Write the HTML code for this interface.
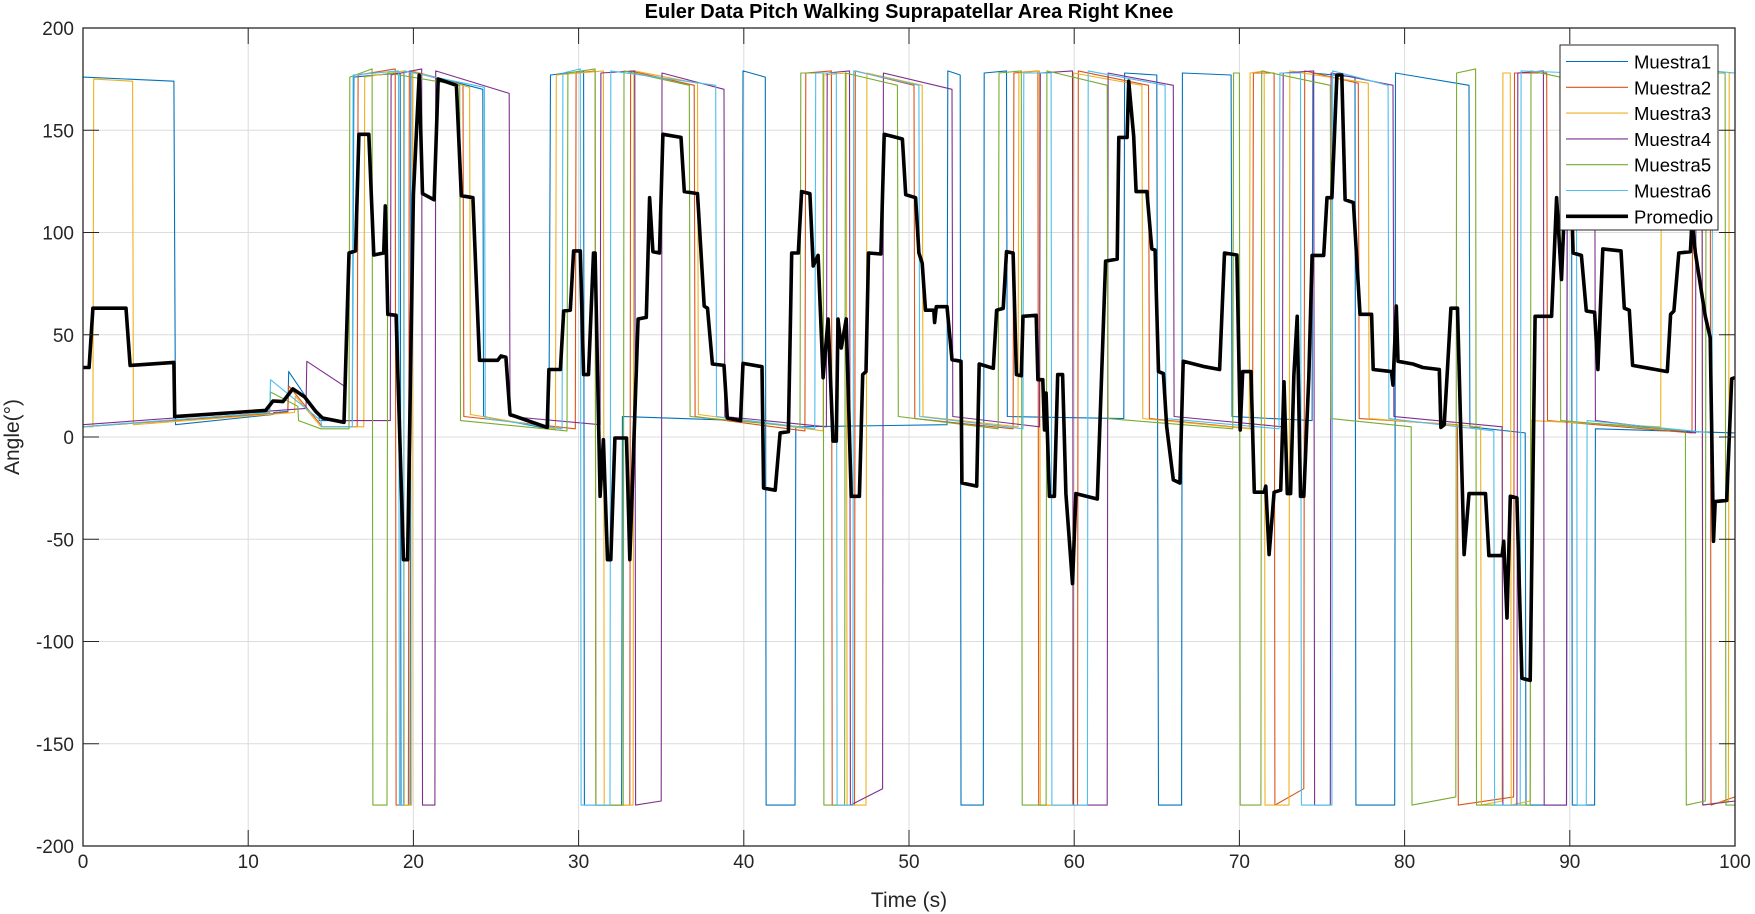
<!DOCTYPE html>
<html><head><meta charset="utf-8"><style>
html,body{margin:0;padding:0;background:#fff;}
svg{display:block;font-family:"Liberation Sans",sans-serif;}
</style></head><body>
<svg id="chart" width="1755" height="914" viewBox="0 0 1755 914" xmlns="http://www.w3.org/2000/svg">
<rect x="0" y="0" width="1755" height="914" fill="#fff"/>
<text x="909" y="18" text-anchor="middle" font-size="20" font-weight="bold" fill="#000">Euler Data Pitch Walking Suprapatellar Area Right Knee</text>
<text x="909" y="907" text-anchor="middle" font-size="21" fill="#262626">Time (s)</text>
<text x="0" y="0" transform="translate(19,437) rotate(-90)" text-anchor="middle" font-size="21" fill="#262626">Angle(°)</text>
<g id="grid"></g>
<g id="series"></g>
<g id="axes"></g>
<g id="legend"></g>
</svg>
<script>
const xTicks = [0,10,20,30,40,50,60,70,80,90,100];
const yTicks = [200,150,100,50,0,-50,-100,-150,-200];
const seriesNames = ["Muestra1","Muestra2","Muestra3","Muestra4","Muestra5","Muestra6"];
const m1 = [[0,5.5,176,174],[5.6,11.5,6,11],[11.55,12.4,12,12.5],[12.45,14.3,32,10],[14.3,16.3,8,8],[16.4,19.2,176,178],[19.25,19.8,-180,-180],[19.85,24.2,179,170],[24.25,28.2,10,4],[28.3,30.3,177,179],[30.35,32.6,-180,-180],[32.65,39.9,10,8],[39.95,41.3,179,176],[41.35,43.1,-180,-180],[43.15,52.3,5,6],[52.35,53.1,179,177],[53.15,54.5,-180,-180],[54.55,55.9,178,179],[55.95,63,10,9],[63.05,65,178,177],[65.1,66.5,-180,-180],[66.55,69.5,178,177],[69.55,74.4,10,8],[74.45,77,178,176],[77.05,79.4,-180,-180],[79.45,83.9,178,172],[83.95,87.3,5,2],[87.35,89.8,-180,-180],[89.85,90.1,178,178],[90.15,91.5,-180,-180],[91.55,100,4,2]];
const m2 = [[0,12.4,5,12],[12.45,14.5,25,5],[14.5,16.6,5,5],[16.65,18.9,177,180],[18.95,19.7,-180,-180],[19.75,23.0,179,172],[23.05,29.8,10,4],[29.85,31.0,178,179],[31.05,33.1,-180,-180],[33.15,37.0,179,172],[37.05,43.7,10,3],[43.75,45.3,178,179],[45.35,46.7,-180,-180],[46.75,50.3,179,172],[50.35,56.3,9,4],[56.35,57.8,178,179],[57.85,60.2,-180,-180],[60.25,64.5,179,172],[64.55,70.8,9,4],[70.85,72.1,178,178],[72.15,73.9,-180,-172],[73.95,77.2,179,173],[77.25,83.2,9,6],[83.25,86.6,-180,-176],[86.65,88.6,178,178],[88.65,97.4,8,2],[97.45,98.5,178,178],[98.55,100,-180,-176]];
const m3 = [[0,0.6,5,5],[0.65,3.0,175,174],[3.05,12.8,6,12],[12.85,14.4,20,5],[14.4,17.0,5,5],[17.05,19.4,176,179],[19.45,19.9,-180,-180],[19.95,23.4,179,171],[23.45,28.6,11,4],[28.65,31.5,177,179],[31.55,33.3,-180,-180],[33.35,37.2,179,173],[37.25,44.8,11,3],[44.85,46.2,177,178],[46.25,47.4,-180,-180],[47.45,50.8,178,172],[50.85,56.6,10,5],[56.65,57.9,178,179],[57.95,59.9,-180,-180],[59.95,64.1,178,172],[64.15,70.6,9,4],[70.65,71.5,178,179],[71.55,73.0,-180,-180],[73.05,77.8,179,173],[77.85,84.6,9,5],[84.65,85.9,-180,-178],[85.95,86.4,178,178],[86.45,87.6,-180,-178],[87.65,95.5,8,5],[95.55,98.0,178,179],[98.05,99.6,-180,-178],[99.65,100,178,178]];
const m4 = [[0,13.5,6,14],[13.55,15.8,37,25],[15.85,18.6,8,8],[18.65,20.5,177,180],[20.55,21.3,-180,-180],[21.35,25.8,179,168],[25.85,31.3,10,6],[31.35,33.4,178,179],[33.45,35.0,-180,-178],[35.05,38.8,178,170],[38.85,45.0,10,5],[45.05,46.4,178,179],[46.45,48.4,-180,-172],[48.45,52.6,178,170],[52.65,57.9,10,5],[57.95,59.9,178,179],[59.95,62.0,-180,-180],[62.05,66.0,178,172],[66.05,72.6,10,5],[72.65,74.5,178,179],[74.55,75.5,-180,-180],[75.55,79.3,178,172],[79.35,85.9,10,5],[85.95,86.8,-180,-180],[86.85,88.4,178,179],[88.45,89.8,-180,-180],[89.85,91.5,178,178],[91.55,97.6,8,2],[97.65,98.0,179,179],[98.05,100,-180,-178]];
const m5 = [[0,11.3,5,12],[11.35,13.0,22,15],[13.05,14.4,8,4],[14.45,16.1,4,4],[16.15,17.5,176,180],[17.55,18.4,-180,-180],[18.45,22.8,178,172],[22.85,29.3,8,3],[29.35,31.0,178,180],[31.05,32.7,-180,-180],[32.75,36.7,179,172],[36.75,43.4,10,5],[43.45,44.8,178,178],[44.85,46.1,-180,-180],[46.15,49.3,178,172],[49.35,55.4,10,4],[55.45,56.8,178,179],[56.85,58.3,-180,-180],[58.35,62.0,179,172],[62.05,69.6,9,4],[69.65,70.0,178,178],[70.05,71.3,-180,-180],[71.35,75.5,179,172],[75.55,80.4,9,5],[80.45,83.1,-180,-176],[83.15,84.3,178,180],[84.35,87.6,-180,-180],[87.65,89.4,179,176],[89.45,97.0,8,3],[97.05,98.2,-180,-178],[98.25,99.4,178,178],[99.45,100,-180,-180]];
const m6 = [[0,11.3,5,12],[11.35,14.4,28,8],[14.45,16.3,5,5],[16.35,19.1,177,179],[19.15,19.4,-180,-180],[19.45,24.3,179,171],[24.35,29.0,9,4],[29.05,30.1,178,180],[30.15,31.9,-180,-180],[31.95,38.3,179,172],[38.35,44.3,10,4],[44.35,45.6,178,178],[45.65,46.6,-180,-180],[46.65,50.6,179,172],[50.65,56.9,10,4],[56.95,58.6,178,178],[58.65,60.8,-180,-180],[60.85,65.5,179,172],[65.55,72.4,9,4],[72.45,73.7,178,178],[73.75,75.6,-180,-180],[75.65,79.0,179,172],[79.05,85.4,9,3],[85.45,87.0,-180,-180],[87.05,90.4,179,178],[90.45,91.0,-180,-180],[91.05,98.6,8,2],[98.65,100,179,178]];
const promT = [0,0.37,0.6,2.6,2.85,5.5,5.55,11.06,11.5,12.1,12.7,13.4,14.1,14.5,15.8,16.1,16.5,16.7,17.3,17.6,18.2,18.3,18.45,18.95,19.4,19.65,20.0,20.35,20.55,21.25,21.5,22.6,22.9,23.6,24,25.1,25.3,25.6,25.85,28.1,28.2,28.9,29.1,29.5,29.7,30.1,30.3,30.6,30.9,31.0,31.3,31.5,31.75,31.95,32.2,32.9,33.1,33.6,34.1,34.3,34.5,34.9,35.1,36.2,36.4,37.2,37.6,37.8,38.1,38.8,39.0,39.8,39.95,41.1,41.2,41.9,42.2,42.7,42.9,43.3,43.5,44.0,44.2,44.5,44.8,45.1,45.4,45.6,45.7,45.9,46.2,46.5,47.0,47.2,47.4,47.55,48.3,48.5,49.6,49.8,50.4,50.6,50.8,51.0,51.5,51.55,51.65,52.3,52.6,53.15,53.2,54.1,54.25,55.1,55.3,55.7,55.9,56.3,56.5,56.8,56.9,57.7,57.8,58.1,58.2,58.3,58.5,58.8,59.0,59.3,59.5,59.9,60.1,61.4,61.9,62.6,62.7,63.2,63.3,63.6,63.75,64.4,64.7,64.9,65.1,65.4,65.6,66.0,66.4,66.6,67.9,68.8,69.1,69.85,70.05,70.2,70.7,70.9,71.5,71.6,71.8,72.1,72.5,72.7,72.9,73.1,73.3,73.5,73.7,73.9,74.2,74.4,75.1,75.3,75.6,75.9,76.2,76.4,76.9,77.1,77.3,78.0,78.1,79.2,79.3,79.5,79.6,80.5,81.1,82.1,82.2,82.4,82.6,82.8,83.2,83.6,83.9,84.9,85.1,85.9,86.0,86.2,86.4,86.8,87.1,87.6,87.9,88.9,89.2,89.5,89.7,90.1,90.2,90.7,91.0,91.5,91.7,92.0,93.1,93.3,93.6,93.8,95.9,96.1,96.3,96.6,97.3,97.4,97.6,98.2,98.5,98.7,98.8,99.5,99.8,100];
const promV = [34,34,63,63,35,36.5,10,13,17.6,17.3,23.5,19.7,12.4,9.3,7.2,90,91,148,148,89,90,113,60,59.5,-60,-60,118.5,177,119,116,175,172,118,117,37.5,37.5,39.6,39,11,4.7,33,33,61.6,62,91,91,30.5,30.5,90,90,-29,-1.3,-60,-60,-0.5,-0.5,-60,57.7,58.5,117,90.6,90,148,146.5,120,119,64,63,35.7,35,9.3,8,36,34.4,-25,-26,2,2.6,90,90,120,119,83.6,88.8,29,57.7,-2,-2,57.7,43.5,57.7,-29,-29,30.5,32,90,89.5,148,145.7,118.5,117,90,85,62,62,56,63.7,63.7,37.8,37,-22.5,-24,35.7,33.6,62,62.9,90.6,90,30.5,30,59,59.5,28,28,3.4,21.5,-29,-29,30.5,30.5,-27.7,-71.7,-27.7,-30.3,86,87,146.5,146.5,174,147,120,120,92,91.4,32,31,5,-21,-22.5,37,34.4,33,90,89,3.4,32,32,-27,-27,-24,-57.5,-27,-26,27,-27.7,-27.7,30.5,59,-29,-29,29,88.8,88.8,117,117,177,177,116,114.6,87.5,60,60,33,32,25.4,64,37,35.7,34,33,4.7,6,34.4,63,63,-57.5,-27.7,-27.7,-58,-58,-51,-88.5,-29,-29.8,-118,-119,59,59,117,77,116,118.5,90,88.8,61.6,61,33,92,91,63,62,35,32,60,61.6,90,90.6,105.6,90,59,48.6,-51,-31.6,-31,28.5,29];

const NS = "http://www.w3.org/2000/svg";
const PL = 83, PR = 1735, PT = 28, PB = 846;
function X(t){ return PL + (t - 0) / 100 * (PR - PL); }
function Y(v){ return PB - (v + 200) / 400 * (PB - PT); }
function mk(tag, attrs, parent){ const e = document.createElementNS(NS, tag); for (const k in attrs) e.setAttribute(k, attrs[k]); parent.appendChild(e); return e; }

const grid = document.getElementById('grid');
const axes = document.getElementById('axes');
xTicks.forEach(t => {
  const g = mk('line', {x1:X(t), x2:X(t), y1:PT, y2:PB, stroke:'#dcdcdc', 'stroke-width':1}, grid);
  
  
  const tb = mk('line', {x1:X(t), x2:X(t), y1:PB, y2:PB-16, stroke:'#262626', 'stroke-width':1}, axes);
  
  
  const tt = mk('line', {x1:X(t), x2:X(t), y1:PT, y2:PT+16, stroke:'#262626', 'stroke-width':1}, axes);
  
  
  const lb = mk('text', {x:X(t), y:868, 'text-anchor':'middle', 'font-size':19, fill:'#262626'}, axes);
  lb.textContent = t;
  
  
});
yTicks.forEach(v => {
  const g = mk('line', {x1:PL, x2:PR, y1:Y(v), y2:Y(v), stroke:'#dcdcdc', 'stroke-width':1}, grid);
  
  
  const tl = mk('line', {x1:PL, x2:PL+16, y1:Y(v), y2:Y(v), stroke:'#262626', 'stroke-width':1}, axes);
  
  
  const tr = mk('line', {x1:PR, x2:PR-16, y1:Y(v), y2:Y(v), stroke:'#262626', 'stroke-width':1}, axes);
  
  
  const lb = mk('text', {x:PL-9, y:Y(v)+7, 'text-anchor':'end', 'font-size':19, fill:'#262626'}, axes);
  lb.textContent = v;
  
  
});
const frame = mk('rect', {x:PL, y:PT, width:PR-PL, height:PB-PT, fill:'none', stroke:'#262626', 'stroke-width':1.3}, axes);



const colors = ['#0072BD','#D95319','#EDB120','#7E2F8E','#77AC30','#4DBEEE'];
const allSeries = [m1,m2,m3,m4,m5,m6];
const sg = document.getElementById('series');
allSeries.forEach((segs, i) => {
  let d = '';
  segs.forEach((s, j) => {
    d += (j === 0 ? 'M' : 'L') + X(s[0]).toFixed(1) + ' ' + Y(s[2]).toFixed(1) + ' L' + X(s[1]).toFixed(1) + ' ' + Y(s[3]).toFixed(1) + ' ';
  });
  const p = mk('path', {d:d, fill:'none', stroke:colors[i], 'stroke-width':1.1, 'stroke-linejoin':'round'}, sg);
  
  
});
let pd = '';
promT.forEach((t, i) => { pd += (i === 0 ? 'M' : 'L') + X(t).toFixed(1) + ' ' + Y(promV[i]).toFixed(1) + ' '; });
const prom = mk('path', {d:pd, fill:'none', stroke:'#000', 'stroke-width':3.6, 'stroke-linejoin':'round'}, sg);



const lg = document.getElementById('legend');
const box = mk('rect', {x:1560, y:45, width:158, height:185, fill:'#fff', stroke:'#262626', 'stroke-width':1}, lg);


const names = seriesNames.concat(['Promedio']);
names.forEach((n, i) => {
  const cy = 61.5 + i * 25.8;
  const ln = mk('line', {x1:1566, x2:1628, y1:cy, y2:cy, stroke: i < 6 ? colors[i] : '#000', 'stroke-width': i < 6 ? 1.1 : 3.6}, lg);
  
  
  const tx = mk('text', {x:1634, y:cy+7, 'font-size':18.5, fill:'#000'}, lg);
  tx.textContent = n;
  
  
});
</script>
</body></html>
